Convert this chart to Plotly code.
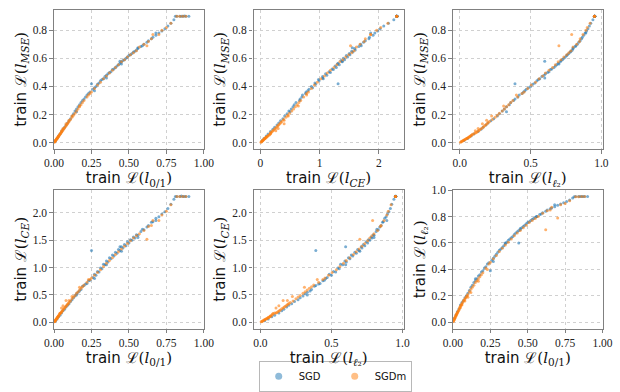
import plotly.graph_objects as go

# ---- data: each point is one trained model, four train losses ----
sgd_l01 = [0.01,0.02,0.03,0.04,0.05,0.06,0.07,0.08,0.09,0.10,0.11,0.12,0.13,0.14,0.15,0.16,0.17,0.18,0.19,0.20,
           0.21,0.22,0.23,0.24,0.25,0.26,0.27,0.28,0.29,0.30,0.31,0.32,0.33,0.34,0.35,0.36,0.37,0.38,0.39,0.40,
           0.41,0.42,0.43,0.44,0.45,0.46,0.47,0.48,0.49,0.50,0.51,0.52,0.53,0.54,0.55,0.56,0.58,0.59,0.60,0.62,
           0.63,0.65,0.66,0.68,0.70,0.72,0.74,0.76,0.78,0.80,0.81,0.82,0.84,0.86,0.88,0.90,0.85,0.87,0.27,0.45,
           0.35,0.15,0.56,0.68,0.44]
sgd_mse = [0.016,0.03,0.047,0.062,0.08,0.095,0.11,0.125,0.14,0.155,0.17,0.19,0.205,0.225,0.24,0.255,0.27,0.285,0.30,0.31,
           0.325,0.34,0.35,0.36,0.42,0.38,0.39,0.40,0.415,0.425,0.44,0.45,0.455,0.47,0.48,0.49,0.50,0.505,0.52,0.525,
           0.535,0.545,0.555,0.565,0.575,0.585,0.59,0.60,0.61,0.62,0.625,0.635,0.645,0.65,0.66,0.67,0.685,0.69,0.70,0.715,
           0.725,0.74,0.75,0.765,0.78,0.795,0.81,0.83,0.85,0.875,0.90,0.90,0.90,0.90,0.90,0.90,0.90,0.901,0.37,0.56,
           0.46,0.22,0.675,0.78,0.58]
sgd_l2 = [0.03,0.055,0.08,0.10,0.13,0.15,0.165,0.185,0.20,0.22,0.24,0.265,0.28,0.30,0.315,0.33,0.35,0.36,0.38,0.39,
          0.41,0.42,0.44,0.45,0.39,0.47,0.485,0.50,0.515,0.53,0.545,0.555,0.565,0.58,0.595,0.605,0.62,0.63,0.64,0.65,
          0.665,0.675,0.685,0.695,0.71,0.715,0.725,0.735,0.745,0.755,0.76,0.77,0.78,0.785,0.795,0.80,0.815,0.82,0.83,0.84,
          0.85,0.86,0.865,0.875,0.885,0.895,0.905,0.915,0.925,0.94,0.95,0.952,0.952,0.953,0.953,0.953,0.952,0.953,0.46,0.70,
          0.60,0.33,0.80,0.89,0.60]
sgd_ce = [0.03,0.06,0.10,0.13,0.17,0.21,0.24,0.28,0.31,0.34,0.38,0.41,0.45,0.48,0.52,0.55,0.57,0.60,0.66,0.67,
          0.70,0.71,0.76,0.77,1.31,0.82,0.88,0.86,0.93,0.92,0.99,0.98,1.06,1.05,1.12,1.10,1.18,1.16,1.23,1.21,
          1.28,1.26,1.33,1.31,1.38,1.36,1.42,1.40,1.47,1.45,1.51,1.50,1.56,1.54,1.60,1.59,1.66,1.70,1.69,1.74,
          1.77,1.83,1.84,1.90,1.93,1.98,2.02,2.08,2.16,2.25,2.30,2.30,2.30,2.30,2.30,2.30,2.31,2.30,0.80,1.30,
          1.05,0.50,1.55,1.86,1.38]

sgdm_l01 = [0.002,0.004,0.006,0.008,0.010,0.012,0.014,0.016,0.018,0.020,0.022,0.024,0.026,0.028,0.030,0.033,0.036,0.039,0.042,0.045,
            0.048,0.052,0.056,0.060,0.065,0.070,0.075,0.080,0.085,0.090,0.095,0.100,0.11,0.12,0.13,0.14,0.15,0.16,0.17,0.18,
            0.19,0.20,0.22,0.24,0.25,0.27,0.29,0.31,0.33,0.35,0.37,0.39,0.41,0.43,0.45,0.47,0.49,0.51,0.53,0.55,
            0.57,0.60,0.63,0.66,0.70,0.62,0.72,0.75,0.78,0.82,0.84,0.86,0.88,0.05,0.08,0.12,0.17,0.23,0.06,0.10,
            0.65]
sgdm_mse = [0.003,0.006,0.009,0.012,0.015,0.018,0.021,0.024,0.027,0.030,0.033,0.036,0.039,0.042,0.045,0.05,0.055,0.06,0.064,0.068,
            0.072,0.078,0.084,0.09,0.098,0.105,0.113,0.12,0.128,0.135,0.143,0.15,0.165,0.18,0.195,0.21,0.225,0.24,0.255,0.27,
            0.285,0.30,0.325,0.35,0.36,0.385,0.41,0.43,0.455,0.475,0.495,0.515,0.535,0.555,0.575,0.59,0.61,0.625,0.64,0.655,
            0.68,0.70,0.72,0.77,0.77,0.69,0.80,0.82,0.85,0.90,0.90,0.90,0.90,0.085,0.135,0.19,0.26,0.34,0.10,0.16,
            0.74]
sgdm_l2 = [0.005,0.01,0.015,0.02,0.025,0.03,0.035,0.04,0.045,0.05,0.055,0.06,0.065,0.07,0.072,0.08,0.085,0.09,0.10,0.11,
           0.117,0.125,0.133,0.14,0.15,0.16,0.168,0.176,0.185,0.193,0.20,0.21,0.23,0.25,0.265,0.28,0.30,0.315,0.33,0.345,
           0.36,0.375,0.41,0.44,0.455,0.48,0.505,0.535,0.56,0.585,0.605,0.63,0.655,0.675,0.695,0.715,0.735,0.755,0.77,0.785,
           0.80,0.825,0.845,0.87,0.79,0.70,0.89,0.90,0.92,0.95,0.951,0.952,0.952,0.11,0.16,0.225,0.31,0.40,0.13,0.19,
           0.85]
sgdm_ce = [0.01,0.015,0.025,0.03,0.04,0.045,0.055,0.06,0.07,0.075,0.09,0.085,0.10,0.11,0.12,0.13,0.15,0.16,0.17,0.17,
           0.18,0.195,0.21,0.225,0.245,0.26,0.28,0.295,0.31,0.33,0.345,0.36,0.39,0.43,0.46,0.49,0.53,0.56,0.59,0.62,
           0.65,0.68,0.73,0.78,0.81,0.86,0.91,0.96,1.02,1.08,1.13,1.18,1.24,1.29,1.34,1.39,1.44,1.49,1.54,1.58,
           1.62,1.68,1.75,1.86,1.86,1.52,1.96,2.03,2.15,2.30,2.30,2.30,2.30,0.26,0.40,0.47,0.64,0.78,0.30,0.40,
           1.77]

SERIES = [("SGD", "rgba(31,119,180,0.6)", "rgba(31,119,180,0.5)",
           {"l01": sgd_l01, "ce": sgd_ce, "mse": sgd_mse, "l2": sgd_l2}),
          ("SGDm", "rgba(255,127,14,0.6)", "rgba(255,127,14,0.5)",
           {"l01": sgdm_l01, "ce": sgdm_ce, "mse": sgdm_mse, "l2": sgdm_l2})]

MATH = "font-family:'DejaVu Serif'"
def lab(sub):
    return ("train <span style=\"%s\">ℒ(<i>l</i><sub>%s</sub>)</span>" % (MATH, sub))

NAMES = {"l01": lab("0/1"), "ce": lab("<i>CE</i>"), "mse": lab("<i>MSE</i>"), "l2": lab("<i>ℓ</i>₂")}

panels = [("l01", "mse"), ("ce", "mse"), ("l2", "mse"),
          ("l01", "ce"), ("l2", "ce"), ("l01", "l2")]

tick_l01 = ([0, 0.25, 0.5, 0.75, 1.0], ["0.00", "0.25", "0.50", "0.75", "1.00"])
tick_ce_x = ([0, 1, 2], ["0", "1", "2"])
tick_l2_x = ([0, 0.5, 1.0], ["0.0", "0.5", "1.0"])
tick_mse_y = ([0, 0.2, 0.4, 0.6, 0.8], ["0.0", "0.2", "0.4", "0.6", "0.8"])
tick_ce_y = ([0, 0.5, 1.0, 1.5, 2.0], ["0.0", "0.5", "1.0", "1.5", "2.0"])
tick_l2_y = ([0, 0.2, 0.4, 0.6, 0.8, 1.0], ["0.0", "0.2", "0.4", "0.6", "0.8", "1.0"])

xticks = [tick_l01, tick_ce_x, tick_l2_x, tick_l01, tick_l2_x, tick_l01]
yticks = [tick_mse_y, tick_mse_y, tick_mse_y, tick_ce_y, tick_ce_y, tick_l2_y]
xranges = [[0, 1.0], [-0.115, 2.415], [-0.048, 1.008], [0, 1.0], [-0.048, 1.008], [0, 1.0]]
yranges = [[-0.045, 0.945], [-0.045, 0.945], [-0.045, 0.945],
           [-0.115, 2.415], [-0.115, 2.415], [-0.048, 1.0]]

W, H = 620, 392
xdom = [[45.5 / W, 200.3 / W], [251.7 / W, 406.7 / W], [457.7 / W, 612.3 / W]]
ydom = [[1 - 146.7 / H, 1 - 4 / H], [1 - 331 / H, 1 - 189 / H]]

fig = go.Figure()
for i, (xk, yk) in enumerate(panels):
    n = i + 1
    suffix = "" if n == 1 else str(n)
    for name, col, lcol, d in SERIES:
        fig.add_trace(go.Scatter(
            x=d[xk], y=d[yk], mode="markers", name=name,
            legendgroup=name, showlegend=False,
            marker=dict(size=3.0, color=col, line=dict(width=0)),
            xaxis="x" + suffix, yaxis="y" + suffix,
        ))
# legend entries (larger symbols, as in the reference legend)
for name, col, lcol, d in SERIES:
    fig.add_trace(go.Scatter(
        x=[None], y=[None], mode="markers", name=name, legendgroup=name,
        showlegend=True, marker=dict(size=7, color=lcol, line=dict(width=0)),
    ))

axis_common = dict(
    showline=True, mirror=True, linecolor="#808080", linewidth=1.3,
    ticks="outside", ticklen=3.5, tickwidth=1, tickcolor="#808080",
    showgrid=True, gridcolor="#d0d0d0", griddash="dot", gridwidth=1,
    zeroline=False,
    tickfont=dict(family="Liberation Serif", size=11.5, color="#222222"),
    title_font=dict(family="DejaVu Sans", size=15, color="#111111"),
)

layout = dict(
    width=W, height=H, margin=dict(l=0, r=0, t=0, b=0),
    paper_bgcolor="white", plot_bgcolor="white",
    showlegend=True,
    legend=dict(
        orientation="h", x=257 / W, y=1 - 364 / H, xanchor="left", yanchor="top",
        bordercolor="#b8b8b8", borderwidth=1, bgcolor="white",
        font=dict(family="DejaVu Sans", size=10, color="#111111"),
        itemsizing="trace", entrywidth=31, tracegroupgap=0, itemwidth=30,
    ),
)
for i in range(6):
    n = i + 1
    r, c = divmod(i, 3)
    suffix = "" if n == 1 else str(n)
    xa = dict(axis_common)
    xa.update(domain=xdom[c], range=xranges[i], anchor="y" + suffix,
              tickvals=xticks[i][0], ticktext=xticks[i][1],
              title=dict(text=NAMES[panels[i][0]], standoff=0))
    ya = dict(axis_common)
    ya.update(domain=ydom[r], range=yranges[i], anchor="x" + suffix,
              tickvals=yticks[i][0], ticktext=yticks[i][1],
              title=dict(text=NAMES[panels[i][1]], standoff=2))
    layout["xaxis" + suffix] = xa
    layout["yaxis" + suffix] = ya

fig.update_layout(**layout)
fig.write_html("out.html")
